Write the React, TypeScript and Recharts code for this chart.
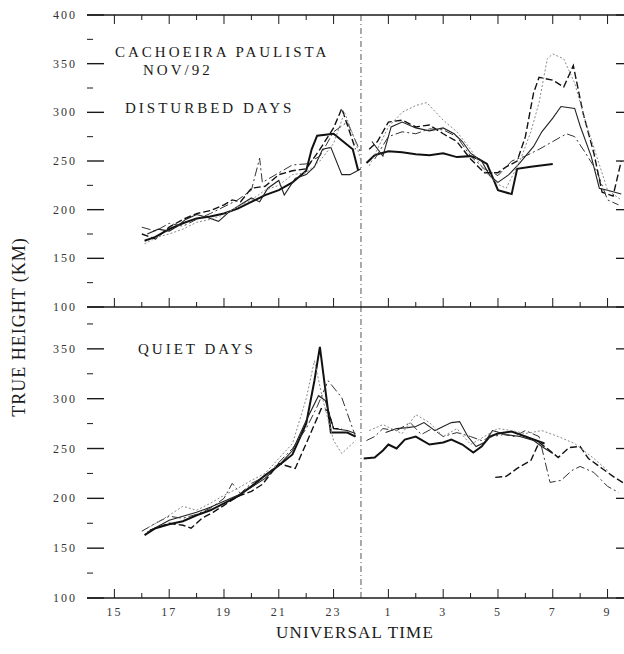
import React from 'react';
import { LineChart, Line, XAxis, YAxis, ReferenceLine } from 'recharts';

type Pt = [number, number | null];

// ---- axes ----
const hourTicks = [15, 16, 17, 18, 19, 20, 21, 22, 23, 24, 25, 26, 27, 28, 29, 30, 31, 32, 33];
const hourLabels = [15, 17, 19, 21, 23, 25, 27, 29, 31, 33];
const xDomain: [number, number] = [14, 33.6];
const yTicksTop = [100, 125, 150, 175, 200, 225, 250, 275, 300, 325, 350, 375, 400];
const yTicksBottom = [100, 125, 150, 175, 200, 225, 250, 275, 300, 325, 350, 375];
const yLabelsTop = [100, 150, 200, 250, 300, 350, 400];
const yLabelsBottom = [100, 150, 200, 250, 300, 350];
const topDomain: [number, number] = [100, 400];
const bottomDomain: [number, number] = [100, 393];

// ---- disturbed days (top panel) ----
const dist1: Pt[] = [
  [16.1, 168], [16.5, 172], [17.0, 180], [17.5, 186], [18.0, 191], [18.5, 193], [19.0, 196], [19.5, 201],
  [20.0, 208], [20.5, 215], [21.0, 220], [21.5, 228], [22.0, 240], [22.2, 262], [22.4, 276], [23.0, 278],
  [23.7, 262], [23.9, 240], [24.05, null],
  [24.2, 248], [24.5, 256], [25.0, 260], [25.5, 259], [26.0, 257], [26.5, 256], [27.0, 258], [27.5, 254],
  [28.0, 255], [28.3, 252], [28.6, 247], [29.0, 220], [29.5, 216], [29.7, 242], [30.2, 244], [31.0, 247],
];
const dist2: Pt[] = [
  [16.2, 175], [16.6, 180], [17.0, 178], [17.3, 183], [17.6, 190], [18.0, 195], [18.4, 192], [18.8, 188],
  [19.2, 198], [19.6, 205], [20.0, 212], [20.3, 208], [20.6, 222], [21.0, 230], [21.2, 215], [21.6, 232],
  [22.0, 236], [22.3, 244], [22.6, 262], [22.9, 264], [23.3, 236], [23.6, 236], [24.0, 242], [24.1, null],
  [24.4, 270], [24.8, 255], [25.1, 285], [25.5, 290], [26.0, 284], [26.5, 281], [27.0, 284], [27.4, 278],
  [27.7, 270], [28.0, 258], [28.4, 250], [28.7, 235], [29.0, 228], [29.4, 236], [29.8, 248], [30.3, 265],
  [30.6, 280], [31.0, 294], [31.3, 306], [31.8, 304], [32.0, 286], [32.4, 255], [32.7, 222], [33.0, 220],
  [33.5, 216],
];
const dist3: Pt[] = [
  [16.0, 175], [16.5, 170], [17.0, 182], [17.5, 190], [18.0, 196], [18.5, 199], [19.0, 205], [19.3, 210],
  [19.6, 208], [20.0, 222], [20.5, 224], [21.0, 236], [21.5, 240], [22.0, 242], [22.5, 262], [23.0, 284],
  [23.3, 304], [23.8, 262], [24.05, null],
  [24.3, 262], [24.6, 270], [25.0, 290], [25.5, 292], [26.0, 285], [26.5, 287], [27.0, 278], [27.5, 270],
  [28.0, 252], [28.5, 238], [29.0, 238], [29.3, 244], [29.7, 250], [30.0, 275], [30.3, 320], [30.5, 336],
  [31.0, 333], [31.4, 326], [31.75, 348], [32.1, 300], [32.5, 258], [32.8, 218], [33.2, 214], [33.5, 250],
];
const dist4: Pt[] = [
  [16.0, 182], [16.5, 178], [17.0, 186], [17.5, 183], [18.0, 190], [18.5, 196], [19.0, 203], [19.5, 210],
  [20.0, 220], [20.3, 253], [20.4, 228], [21.5, 246], [22.0, 247], [22.5, 255], [23.0, 280], [23.5, 290],
  [24.0, 258], [24.1, null],
  [24.5, 252], [25.0, 275], [25.5, 280], [26.0, 278], [26.5, 283], [27.0, 282], [27.5, 275], [28.0, 255],
  [28.5, 242], [29.0, 235], [29.5, 250], [30.0, 255], [30.5, 262], [31.0, 270], [31.5, 278], [31.8, 275],
  [32.2, 258], [32.6, 240], [33.0, 210], [33.4, 205],
];
const dist5: Pt[] = [
  [16.1, 165], [16.6, 172], [17.0, 175], [17.5, 180], [18.0, 187], [18.5, 190], [19.0, 195], [19.5, 203],
  [20.0, 210], [20.5, 220], [21.0, 225], [21.5, 236], [22.0, 238], [22.5, 250], [23.0, 268], [23.4, 300],
  [23.8, 270], [24.0, 250], [24.1, null],
  [24.3, 245], [25.0, 285], [25.5, 300], [26.0, 307], [26.4, 310], [27.0, 292], [27.5, 280], [28.0, 262],
  [28.5, 240], [29.0, 226], [29.3, 222], [29.8, 250], [30.2, 280], [30.5, 310], [30.8, 355], [31.0, 360],
  [31.4, 355], [31.8, 330], [32.2, 290], [32.6, 255], [33.0, 220], [33.5, 210],
];

// ---- quiet days (bottom panel) ----
const quiet1: Pt[] = [
  [16.1, 163], [16.5, 170], [17.0, 174], [17.5, 177], [18.0, 183], [18.5, 188], [19.0, 195], [19.5, 202],
  [20.0, 212], [20.5, 223], [21.0, 233], [21.5, 244], [22.0, 275], [22.3, 318], [22.5, 352], [22.9, 266],
  [23.5, 266], [23.8, 262], [24.0, null],
  [24.1, 240], [24.5, 241], [24.8, 248], [25.0, 254], [25.3, 250], [25.6, 259], [26.0, 262], [26.5, 254],
  [27.0, 256], [27.3, 259], [27.7, 254], [28.1, 246], [28.4, 252], [28.7, 262], [29.0, 265], [29.5, 267],
  [30.0, 262], [30.4, 258], [30.7, 255],
];
const quiet2: Pt[] = [
  [16.2, 166], [16.6, 172], [17.0, 178], [17.5, 182], [18.0, 186], [18.5, 191], [19.0, 197], [19.5, 203],
  [20.0, 211], [20.5, 220], [21.0, 233], [21.5, 248], [22.0, 278], [22.45, 303], [22.7, 298], [23.0, 270],
  [23.5, 268], [23.8, 265], [24.0, null],
  [24.9, 266], [25.3, 270], [25.7, 271], [26.0, 272], [26.3, 276], [26.7, 268], [27.0, 272], [27.3, 276],
  [27.6, 277], [27.9, 262], [28.2, 252], [28.5, 256], [28.8, 268], [29.3, 264], [29.8, 262], [30.3, 258],
  [30.6, 252], [31.0, 245],
];
const quiet3: Pt[] = [
  [16.3, 168], [17.0, 175], [17.5, 173], [17.8, 170], [18.2, 180], [18.6, 186], [19.0, 193], [19.5, 202],
  [20.0, 207], [20.4, 214], [20.8, 228], [21.0, 235], [21.6, 230], [22.0, 255], [22.55, 290], [22.8, 288],
  [23.0, 270], [23.3, 270], [24.0, null],
  [28.9, 221], [29.3, 222], [29.7, 230], [30.2, 238], [30.5, 256], [30.8, 250], [31.2, 241], [31.6, 251],
  [32.0, 252], [32.3, 240], [32.8, 230], [33.2, 222], [33.6, 215],
];
const quiet4: Pt[] = [
  [16.0, 167], [16.5, 175], [17.0, 182], [17.5, 180], [18.0, 184], [18.5, 190], [19.0, 200], [19.3, 215],
  [19.6, 205], [20.0, 215], [20.5, 222], [21.0, 236], [21.5, 250], [22.0, 270], [22.4, 292], [22.8, 318],
  [23.3, 301], [23.8, 262], [24.0, null],
  [24.2, 258], [24.5, 262], [24.8, 270], [25.3, 268], [25.8, 276], [26.2, 264], [26.6, 270], [27.0, 262],
  [27.5, 266], [28.0, 262], [28.4, 258], [28.8, 262], [29.2, 264], [29.6, 262], [30.0, 268], [30.5, 262],
  [30.9, 216], [31.3, 218], [31.7, 228], [32.0, 232], [32.5, 226], [33.0, 212], [33.4, 206],
];
const quiet5: Pt[] = [
  [16.2, 170], [17.0, 183], [17.5, 192], [18.0, 188], [18.5, 195], [19.0, 203], [19.5, 210], [20.0, 218],
  [20.5, 225], [21.0, 240], [21.5, 255], [22.0, 300], [22.3, 338], [22.6, 300], [23.0, 258], [23.3, 245],
  [23.8, 258], [24.0, null],
  [24.3, 268], [24.8, 274], [25.5, 265], [26.0, 284], [26.5, 276], [27.0, 262], [27.5, 270], [28.0, 254],
  [28.5, 262], [29.0, 270], [29.5, 268], [30.0, 265], [30.6, 268], [31.2, 262], [31.8, 255], [32.5, 240],
  [33.0, 228],
];

const toRows = (pts: Pt[]) => pts.map(([h, v]) => ({ h, v }));

const styles = [
  { stroke: '#111', strokeWidth: 2, dash: undefined as string | undefined },
  { stroke: '#222', strokeWidth: 1.1, dash: undefined as string | undefined },
  { stroke: '#111', strokeWidth: 1.4, dash: '7 3' },
  { stroke: '#333', strokeWidth: 1, dash: '9 3 2 3' },
  { stroke: '#8a8a8a', strokeWidth: 1, dash: '2 2' },
];

const FONT = '"Liberation Serif", "Times New Roman", serif';
const INK = '#1a1a1a';

const makeLeftTick = (labels: number[]) => (props: any) => {
  const { x, y, payload } = props;
  const v = payload.value;
  const major = v % 50 === 0;
  const x0 = x + 10;
  return (
    <g>
      <line x1={x0} x2={x0 + (major ? 17 : 6)} y1={y} y2={y} stroke={INK} strokeWidth={major ? 1.4 : 1} />
      {labels.includes(v) && (
        <text x={x} y={y} dy={4} textAnchor="end" fontFamily={FONT} fontSize={12} letterSpacing={2} fill="#333">
          {v}
        </text>
      )}
    </g>
  );
};

const RightTick = (props: any) => {
  const { x, y, payload } = props;
  const major = payload.value % 50 === 0;
  return <line x1={x} x2={x - (major ? 8 : 0)} y1={y} y2={y} stroke={INK} strokeWidth={1.3} />;
};

const makeXTick = (dir: number, showLabels: boolean) => (props: any) => {
  const { x, y, payload } = props;
  const h = payload.value;
  const lab = hourLabels.includes(h);
  const len = lab ? 9 : 5;
  return (
    <g>
      {h !== 24 && <line x1={x} x2={x} y1={y} y2={y + dir * len} stroke={INK} strokeWidth={1} />}
      {showLabels && lab && (
        <text x={x} y={y + 18} textAnchor="middle" fontFamily={FONT} fontSize={12} letterSpacing={2} fill="#333">
          {h > 24 ? h - 24 : h}
        </text>
      )}
    </g>
  );
};

const renderLines = (series: Pt[][], yId: string) =>
  series.map((s, i) => (
    <Line
      key={i}
      data={toRows(s)}
      dataKey="v"
      yAxisId={yId}
      type="linear"
      stroke={styles[i].stroke}
      strokeWidth={styles[i].strokeWidth}
      strokeDasharray={styles[i].dash}
      dot={false}
      activeDot={false}
      connectNulls={false}
      isAnimationActive={false}
    />
  ));

export default function App() {
  const topSeries = [dist1, dist2, dist3, dist4, dist5];
  const bottomSeries = [quiet1, quiet2, quiet3, quiet4, quiet5];
  return (
    <div style={{ position: 'absolute', left: 0, top: 0, width: 624, height: 654, background: '#fff', overflow: 'hidden' }}>
      <div style={{ position: 'absolute', left: 0, top: 296 }}>
        <LineChart width={624} height={358} margin={{ top: 10, right: 0, bottom: 0, left: 0 }}>
          <XAxis
            type="number"
            dataKey="h"
            domain={xDomain}
            allowDataOverflow
            ticks={hourTicks}
            orientation="bottom"
            height={56}
            tickSize={0}
            tickMargin={0}
            axisLine={{ stroke: INK, strokeWidth: 1.6 }}
            tickLine={false}
            tick={makeXTick(-1, true)}
            interval={0}
          />
          <YAxis
            yAxisId="l"
            type="number"
            domain={bottomDomain}
            allowDataOverflow
            ticks={yTicksBottom}
            width={87}
            tickSize={0}
            tickMargin={10}
            axisLine={false}
            tickLine={false}
            tick={makeLeftTick(yLabelsBottom)}
            interval={0}
          />
          <YAxis
            yAxisId="r"
            orientation="right"
            mirror
            type="number"
            domain={bottomDomain}
            allowDataOverflow
            ticks={yTicksBottom}
            tickSize={0}
            tickMargin={0}
            axisLine={false}
            tickLine={false}
            tick={RightTick}
            interval={0}
          />
          <ReferenceLine yAxisId="l" x={24} stroke="#555" strokeWidth={1} strokeDasharray="6 3 1 3" />
          {renderLines(bottomSeries, 'l')}
        </LineChart>
      </div>
      <div style={{ position: 'absolute', left: 0, top: 0 }}>
        <LineChart width={624} height={322} margin={{ top: 15, right: 0, bottom: 15, left: 0 }}>
          <XAxis
            type="number"
            dataKey="h"
            domain={xDomain}
            allowDataOverflow
            ticks={hourTicks}
            orientation="bottom"
            mirror
            tickSize={0}
            tickMargin={0}
            axisLine={{ stroke: INK, strokeWidth: 1.6 }}
            tickLine={false}
            tick={makeXTick(-1, false)}
            interval={0}
          />
          <XAxis
            xAxisId="t"
            type="number"
            dataKey="h"
            domain={xDomain}
            allowDataOverflow
            ticks={hourTicks}
            orientation="top"
            mirror
            tickSize={0}
            tickMargin={0}
            axisLine={{ stroke: INK, strokeWidth: 1.6 }}
            tickLine={false}
            tick={makeXTick(1, false)}
            interval={0}
          />
          <YAxis
            yAxisId="l"
            type="number"
            domain={topDomain}
            allowDataOverflow
            ticks={yTicksTop}
            width={87}
            tickSize={0}
            tickMargin={10}
            axisLine={false}
            tickLine={false}
            tick={makeLeftTick(yLabelsTop)}
            interval={0}
          />
          <YAxis
            yAxisId="r"
            orientation="right"
            mirror
            type="number"
            domain={topDomain}
            allowDataOverflow
            ticks={yTicksTop}
            tickSize={0}
            tickMargin={0}
            axisLine={false}
            tickLine={false}
            tick={RightTick}
            interval={0}
          />
          <ReferenceLine yAxisId="l" x={24} stroke="#555" strokeWidth={1} strokeDasharray="6 3 1 3" />
          {renderLines(topSeries, 'l')}
        </LineChart>
      </div>
      <svg
        width={624}
        height={654}
        style={{ position: 'absolute', left: 0, top: 0, pointerEvents: 'none' }}
        fontFamily={FONT}
        fill={INK}
      >
        <text x={115} y={57} fontSize={15} letterSpacing={3}>CACHOEIRA PAULISTA</text>
        <text x={143} y={75} fontSize={15} letterSpacing={3}>NOV/92</text>
        <text x={125} y={113} fontSize={15} letterSpacing={3}>DISTURBED DAYS</text>
        <text x={138} y={354} fontSize={15} letterSpacing={3}>QUIET DAYS</text>
        <text x={355} y={638} fontSize={17} letterSpacing={1.2} textAnchor="middle">UNIVERSAL TIME</text>
        <text transform="translate(25,327) rotate(-90)" fontSize={18} letterSpacing={1} textAnchor="middle">
          TRUE HEIGHT (KM)
        </text>
      </svg>
    </div>
  );
}
